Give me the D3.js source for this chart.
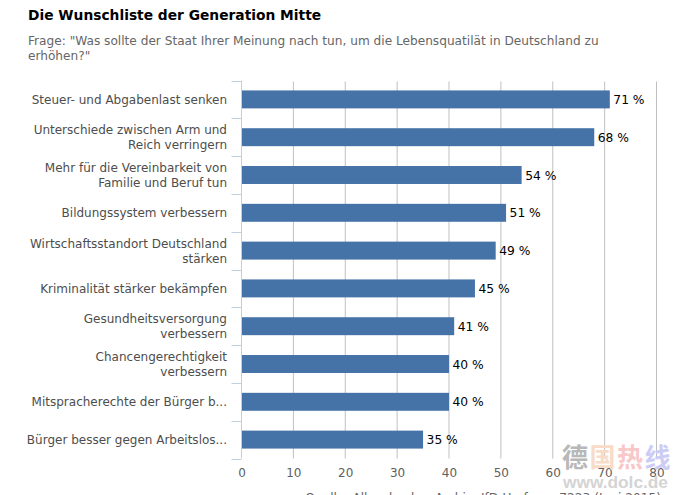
<!DOCTYPE html>
<html>
<head>
<meta charset="utf-8">
<script src="https://d3js.org/d3.v7.min.js"></script>
<style>
  html, body { margin: 0; padding: 0; background: #fff; overflow: hidden; }
  svg { display: block; }
  text { font-family: "DejaVu Sans", sans-serif; }
</style>
</head>
<body>
<svg id="chart"></svg>
<script>
const categories = [
  ["Steuer- und Abgabenlast senken"],
  ["Unterschiede zwischen Arm und", "Reich verringern"],
  ["Mehr für die Vereinbarkeit von", "Familie und Beruf tun"],
  ["Bildungssystem verbessern"],
  ["Wirtschaftsstandort Deutschland", "stärken"],
  ["Kriminalität stärker bekämpfen"],
  ["Gesundheitsversorgung", "verbessern"],
  ["Chancengerechtigkeit", "verbessern"],
  ["Mitspracherechte der Bürger b..."],
  ["Bürger besser gegen Arbeitslos..."]
];
const values = [71, 68, 54, 51, 49, 45, 41, 40, 40, 35];
const xTicks = [0, 10, 20, 30, 40, 50, 60, 70, 80];
const subtitleLines = [
  "Frage: \"Was sollte der Staat Ihrer Meinung nach tun, um die Lebensquatilät in Deutschland zu",
  "erhöhen?\""
];

const width = 677, height = 495;
const plotLeft = 241.5, plotRight = 656.5, plotTop = 80.5, plotBottom = 458.5;

const svg = d3.select("#chart").attr("width", width).attr("height", height);

const x = d3.scaleLinear().domain([0, 80]).range([plotLeft, plotRight]);
const y = d3.scaleBand().domain(d3.range(values.length)).range([plotTop, plotBottom]).paddingInner(0.525).paddingOuter(0.2625);
const band = d3.scaleBand().domain(d3.range(values.length)).range([plotTop, plotBottom]);

svg.append("text").attr("x", 28).attr("y", 20)
  .attr("font-size", 13.8).attr("font-weight", "bold").attr("fill", "#000")
  .text("Die Wunschliste der Generation Mitte");

svg.append("g").selectAll("text").data(subtitleLines).join("text")
  .attr("x", 28).attr("y", (d, i) => 45 + i * 15)
  .attr("font-size", 12.15).attr("fill", "#666")
  .text(d => d);

// vertical grid lines
svg.append("g").selectAll("line").data(xTicks.slice(1)).join("line")
  .attr("x1", d => x(d)).attr("x2", d => x(d))
  .attr("y1", plotTop + 1).attr("y2", plotBottom)
  .attr("stroke", "#c0c0c0").attr("stroke-width", 1);

// bars
svg.append("g").selectAll("rect").data(values).join("rect")
  .attr("x", plotLeft).attr("y", (d, i) => y(i))
  .attr("width", d => x(d) - plotLeft).attr("height", y.bandwidth())
  .attr("fill", "#4572a7");

svg.append("g").selectAll("text").data(values).join("text")
  .attr("x", d => x(d) + 3.5).attr("y", (d, i) => y(i) + y.bandwidth() / 2 + 4.5)
  .attr("font-size", 12.3).attr("fill", "#000")
  .text(d => d + " %");

// category axis with band ticks on the left
const catAxis = svg.append("g");
catAxis.append("line")
  .attr("x1", plotLeft).attr("x2", plotLeft).attr("y1", plotTop).attr("y2", plotBottom)
  .attr("stroke", "#c0d0e0").attr("stroke-width", 1);
catAxis.selectAll(".tick").data(d3.range(values.length + 1)).join("line")
  .attr("class", "tick")
  .attr("x1", plotLeft - 10).attr("x2", plotLeft)
  .attr("y1", i => Math.round(i < values.length ? band(i) : plotBottom) + 0.5)
  .attr("y2", i => Math.round(i < values.length ? band(i) : plotBottom) + 0.5)
  .attr("stroke", "#c0d0e0");

const catLabels = svg.append("g").selectAll("text").data(categories).join("text")
  .attr("text-anchor", "end").attr("font-size", 12).attr("fill", "#4d4d4d");
catLabels.selectAll("tspan").data((d, i) => d.map((s, j) => ({ s, j, i, n: d.length }))).join("tspan")
  .attr("x", 227)
  .attr("y", d => band(d.i) + band.bandwidth() / 2 + 4.5 + (d.j - (d.n - 1) / 2) * 15)
  .text(d => d.s);

// value axis labels
const xAxis = svg.append("g").attr("transform", `translate(0,${plotBottom})`)
  .call(d3.axisBottom(x).tickValues(xTicks).tickSize(0).tickPadding(10));
xAxis.select(".domain").remove();
xAxis.selectAll("text").attr("font-size", 12).attr("fill", "#606060").style("font-family", "'DejaVu Sans', sans-serif");

// source line, cut by the lower edge of the picture
svg.append("text").attr("x", 661).attr("y", 502).attr("text-anchor", "end")
  .attr("font-size", 12.2).attr("fill", "#666")
  .text("Quelle: Allensbacher Archiv, IfD-Umfrage 7223 (Juni 2015)");

// watermark
const mark = svg.append("g").attr("font-weight", "bold").attr("font-size", 26);
[["德", "#b8b8b8"], ["国", "#f8dcc8"], ["热", "#f8c8c8"], ["线", "#ccccf6"]].forEach((c, i) => {
  mark.append("text").attr("x", 562 + i * 27.5).attr("y", 467)
    .attr("fill", c[1]).style("font-family", "'Noto Sans CJK SC'").text(c[0]);
});
svg.append("text").attr("x", 563).attr("y", 488)
  .attr("font-size", 17.3).attr("font-weight", "bold").attr("fill", "#d4d4d4")
  .style("font-family", "'Liberation Sans'")
  .text("www.dolc.de");
</script>
</body>
</html>
